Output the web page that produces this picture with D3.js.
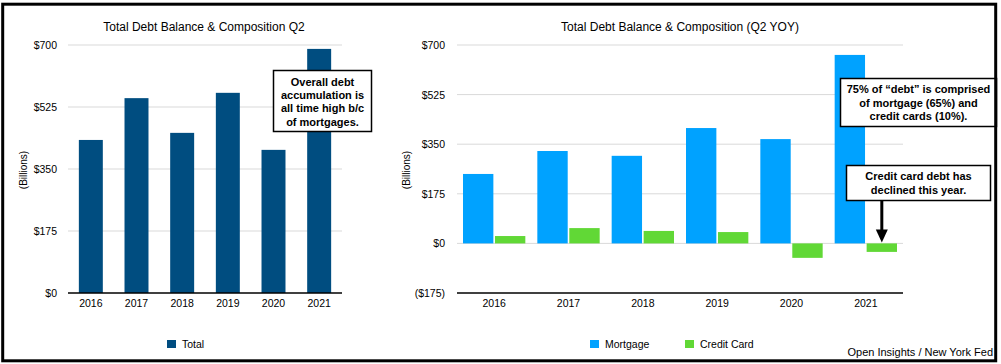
<!DOCTYPE html>
<html>
<head>
<meta charset="utf-8">
<script src="https://cdn.jsdelivr.net/npm/d3@7"></script>
<style>
	body { margin: 0; background: #fff; }
	svg { display: block; font-family: "Liberation Sans", Arial, Helvetica, sans-serif; }
</style>
</head>
<body>
<div id="diagram"></div>
<script>
const years = ["2016", "2017", "2018", "2019", "2020", "2021"];
const total = [432, 550, 452, 565, 404, 689];
const mortgage = [245, 326, 309, 407, 368, 665];
const creditCard = [26, 54, 44, 40, -51, -30];
const leftTicks = [0, 175, 350, 525, 700];
const rightTicks = [-175, 0, 175, 350, 525, 700];
const seriesNames = ["Mortgage", "Credit Card"];

const colors = {
	total: "#004d80",
	Mortgage: "#00a2ff",
	"Credit Card": "#61d836"
};

const width = 1001;
const height = 364;

var svg = d3.select("#diagram")
	.append("svg")
	.attr("width", width)
	.attr("height", height);

function money(d) {
	return d < 0 ? "($" + (-d) + ")" : "$" + d;
}

// ---- left chart ----
function leftChart() {
	const x = d3.scaleBand().domain(years).range([68, 342]).padding(0);
	const y = d3.scaleLinear().domain([0, 700]).range([293, 45]);
	const g = svg.append("g");

	g.selectAll("line.grid")
		.data(leftTicks.filter(d => d != 0))
		.enter()
		.append("line")
		.attr("x1", 68).attr("x2", 342)
		.attr("y1", d => y(d)).attr("y2", d => y(d))
		.attr("stroke", "#d9d9d9");

	const bw = x.bandwidth() * 0.525;
	g.selectAll("rect")
		.data(total)
		.enter()
		.append("rect")
		.attr("x", (d, i) => x(years[i]) + (x.bandwidth() - bw) / 2)
		.attr("y", d => y(d))
		.attr("width", bw)
		.attr("height", d => y(0) - y(d))
		.attr("fill", colors.total);

	g.append("line")
		.attr("x1", 68).attr("x2", 342)
		.attr("y1", y(0)).attr("y2", y(0))
		.attr("stroke", "#000").attr("stroke-width", 1.3);

	g.selectAll("text.ytick")
		.data(leftTicks)
		.enter()
		.append("text")
		.attr("x", 57)
		.attr("y", d => y(d) + 4)
		.attr("text-anchor", "end")
		.attr("font-size", "10.5px")
		.text(money);

	g.selectAll("text.xtick")
		.data(years)
		.enter()
		.append("text")
		.attr("x", d => x(d) + x.bandwidth() / 2)
		.attr("y", 307)
		.attr("text-anchor", "middle")
		.attr("font-size", "10.5px")
		.text(d => d);

	g.append("text")
		.attr("transform", "translate(27,170) rotate(-90)")
		.attr("text-anchor", "middle")
		.attr("font-size", "10px")
		.text("(Billions)");

	g.append("text")
		.attr("x", 204).attr("y", 31)
		.attr("text-anchor", "middle")
		.attr("font-size", "12px")
		.text("Total Debt Balance & Composition Q2");

	g.append("rect")
		.attr("x", 167).attr("y", 340).attr("width", 9).attr("height", 8)
		.attr("fill", colors.total);
	g.append("text")
		.attr("x", 182).attr("y", 348)
		.attr("font-size", "10.5px")
		.text("Total");
}

// ---- right chart ----
function rightChart() {
	const x0 = d3.scaleBand().domain(years).range([457, 903]).padding(0);
	const x1 = d3.scaleBand().domain(seriesNames)
		.range([6, x0.bandwidth() - 6]).paddingInner(0.05);
	const y = d3.scaleLinear().domain([-175, 700]).range([293, 45]);
	const g = svg.append("g");

	g.selectAll("line.grid")
		.data(rightTicks.filter(d => d != -175))
		.enter()
		.append("line")
		.attr("x1", 457).attr("x2", 903)
		.attr("y1", d => y(d)).attr("y2", d => y(d))
		.attr("stroke", "#d9d9d9");

	const rows = years.map((yr, i) => ({ year: yr, values: [
		{ key: "Mortgage", value: mortgage[i] },
		{ key: "Credit Card", value: creditCard[i] }
	]}));

	g.selectAll("g.year")
		.data(rows)
		.enter()
		.append("g")
		.attr("transform", d => `translate(${x0(d.year)},0)`)
		.selectAll("rect")
		.data(d => d.values)
		.enter()
		.append("rect")
		.attr("x", d => x1(d.key))
		.attr("y", d => y(Math.max(0, d.value)))
		.attr("width", x1.bandwidth())
		.attr("height", d => Math.abs(y(d.value) - y(0)))
		.attr("fill", d => colors[d.key]);

	g.append("line")
		.attr("x1", 457).attr("x2", 903)
		.attr("y1", y(-175)).attr("y2", y(-175))
		.attr("stroke", "#000").attr("stroke-width", 1.3);

	g.selectAll("text.ytick")
		.data(rightTicks)
		.enter()
		.append("text")
		.attr("x", 445)
		.attr("y", d => y(d) + 4)
		.attr("text-anchor", "end")
		.attr("font-size", "10.5px")
		.text(money);

	g.selectAll("text.xtick")
		.data(years)
		.enter()
		.append("text")
		.attr("x", d => x0(d) + x0.bandwidth() / 2)
		.attr("y", 307)
		.attr("text-anchor", "middle")
		.attr("font-size", "10.5px")
		.text(d => d);

	g.append("text")
		.attr("transform", "translate(410,170) rotate(-90)")
		.attr("text-anchor", "middle")
		.attr("font-size", "10px")
		.text("(Billions)");

	g.append("text")
		.attr("x", 680).attr("y", 31)
		.attr("text-anchor", "middle")
		.attr("font-size", "12px")
		.text("Total Debt Balance & Composition (Q2 YOY)");

	const legendX = [590, 685];
	seriesNames.forEach(function(name, i) {
		g.append("rect")
			.attr("x", legendX[i]).attr("y", 340).attr("width", 9).attr("height", 8)
			.attr("fill", colors[name]);
		g.append("text")
			.attr("x", legendX[i] + 15).attr("y", 348)
			.attr("font-size", "10.5px")
			.text(name);
	});

	// arrow to 2021 credit card bar
	const ax = x0("2021") + x1("Credit Card") + x1.bandwidth() / 2;
	g.append("line")
		.attr("x1", ax).attr("x2", ax)
		.attr("y1", 201).attr("y2", y(0) - 12)
		.attr("stroke", "#000").attr("stroke-width", 3);
	g.append("path")
		.attr("d", `M${ax - 6},${y(0) - 14} L${ax + 6},${y(0) - 14} L${ax},${y(0) - 1} Z`)
		.attr("fill", "#000");
}

function annotation(x, y, w, h, lines, lineY, step) {
	svg.append("rect")
		.attr("x", x).attr("y", y).attr("width", w).attr("height", h)
		.attr("fill", "#fff")
		.attr("stroke", "#000")
		.attr("stroke-width", 1.5);
	svg.selectAll(null)
		.data(lines)
		.enter()
		.append("text")
		.attr("x", x + w / 2)
		.attr("y", (d, i) => lineY + i * step)
		.attr("text-anchor", "middle")
		.attr("font-size", "11px")
		.attr("font-weight", "bold")
		.text(d => d);
}

leftChart();
rightChart();

annotation(273.5, 70.5, 98, 61,
	["Overall debt", "accumulation is", "all time high b/c", "of mortgages."], 86, 13.2);
annotation(840.5, 78.5, 156, 48,
	["75% of \u201cdebt\u201d is comprised", "of mortgage (65%) and", "credit cards (10%)."], 93, 13.6);
annotation(846.5, 165.5, 144, 35,
	["Credit card debt has", "declined this year."], 180, 14);

svg.append("text")
	.attr("x", 993).attr("y", 356)
	.attr("text-anchor", "end")
	.attr("font-size", "11px")
	.text("Open Insights / New York Fed");

// outer frame
svg.append("rect")
	.attr("x", 2.7).attr("y", 4.2)
	.attr("width", 993).attr("height", 356.6)
	.attr("fill", "none")
	.attr("stroke", "#000")
	.attr("stroke-width", 3);
</script>
</body>
</html>
